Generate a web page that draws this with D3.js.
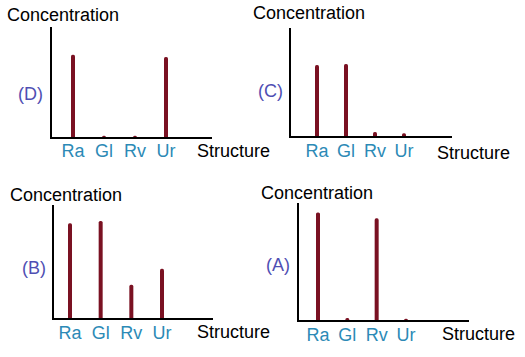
<!DOCTYPE html>
<html><head><meta charset="utf-8">
<script src="https://cdn.jsdelivr.net/npm/d3@7"></script>
<style>
html,body{margin:0;padding:0;background:#fff;}
svg{display:block;font-family:"Liberation Sans",Arial,sans-serif;}
</style></head>
<body>
<svg id="c" width="525" height="357"></svg>
<script>
// ---- data ----
const categories = ["Ra", "Gl", "Rv", "Ur"];
const panelNames = ["(D)", "(C)", "(B)", "(A)"];
const valuesD = [75, 2, 2, 73];
const valuesC = [66, 67, 4.5, 3.5];
const valuesB = [84, 86, 30, 44];
const valuesA = [92, 2.5, 87, 2];
const yAxisTitle = "Concentration";
const xAxisTitle = "Structure";

// ---- layout (positions/styles only) ----
const layout = [
  {vals: valuesD, name: panelNames[0], ox: 51, oy: 138, top: 27, right: 212, b0: 73, b1: 166, tx: 7, ty: 21, nx: 18, ny: 100, lb: 157, sx: 197, sb: 157},
  {vals: valuesC, name: panelNames[1], ox: 290, oy: 137, top: 28, right: 452, b0: 317, b1: 404, tx: 253, ty: 19, nx: 258, ny: 97, lb: 157, sx: 437, sb: 159},
  {vals: valuesB, name: panelNames[2], ox: 53, oy: 319, top: 205, right: 213, b0: 70, b1: 162, tx: 10, ty: 201, nx: 22, ny: 274, lb: 339, sx: 197, sb: 338},
  {vals: valuesA, name: panelNames[3], ox: 298, oy: 321, top: 203, right: 469, b0: 318, b1: 406, tx: 261, ty: 199, nx: 266, ny: 271, lb: 341, sx: 442, sb: 340}
];

const svg = d3.select("#c");
const barColor = "#7a1122";
const labelColor = "#2c8ab6";
const nameColor = "#4f4fb3";

layout.forEach(p => {
  const g = svg.append("g");
  const x = d3.scalePoint().domain(categories).range([p.b0, p.b1]);
  const y = d3.scaleLinear().domain([0, 100]).range([p.oy, p.top]);

  // bars
  g.selectAll("rect.bar").data(p.vals).enter().append("rect")
    .attr("class", "bar")
    .attr("x", (d, i) => x(categories[i]) - 2)
    .attr("width", 4)
    .attr("y", d => y(d))
    .attr("height", d => p.oy - y(d) + 1)
    .attr("rx", 1.6)
    .attr("fill", barColor);

  // axes
  g.append("line").attr("x1", p.ox).attr("x2", p.ox).attr("y1", y(100)).attr("y2", p.oy + 1)
    .attr("stroke", "#000").attr("stroke-width", 2);
  g.append("line").attr("x1", p.ox).attr("x2", p.right).attr("y1", p.oy).attr("y2", p.oy)
    .attr("stroke", "#000").attr("stroke-width", 2);

  // category labels
  g.selectAll("text.cat").data(categories).enter().append("text")
    .attr("class", "cat")
    .attr("x", d => x(d))
    .attr("y", p.lb)
    .attr("text-anchor", "middle")
    .attr("font-size", 18)
    .attr("fill", labelColor)
    .text(d => d);

  g.append("text").attr("x", p.sx).attr("y", p.sb).attr("font-size", 18).attr("fill", "#000").text(xAxisTitle);
  g.append("text").attr("x", p.tx).attr("y", p.ty).attr("font-size", 18).attr("fill", "#000").text(yAxisTitle);
  g.append("text").attr("x", p.nx).attr("y", p.ny).attr("font-size", 18).attr("fill", nameColor).text(p.name);
});
</script>
</body></html>
